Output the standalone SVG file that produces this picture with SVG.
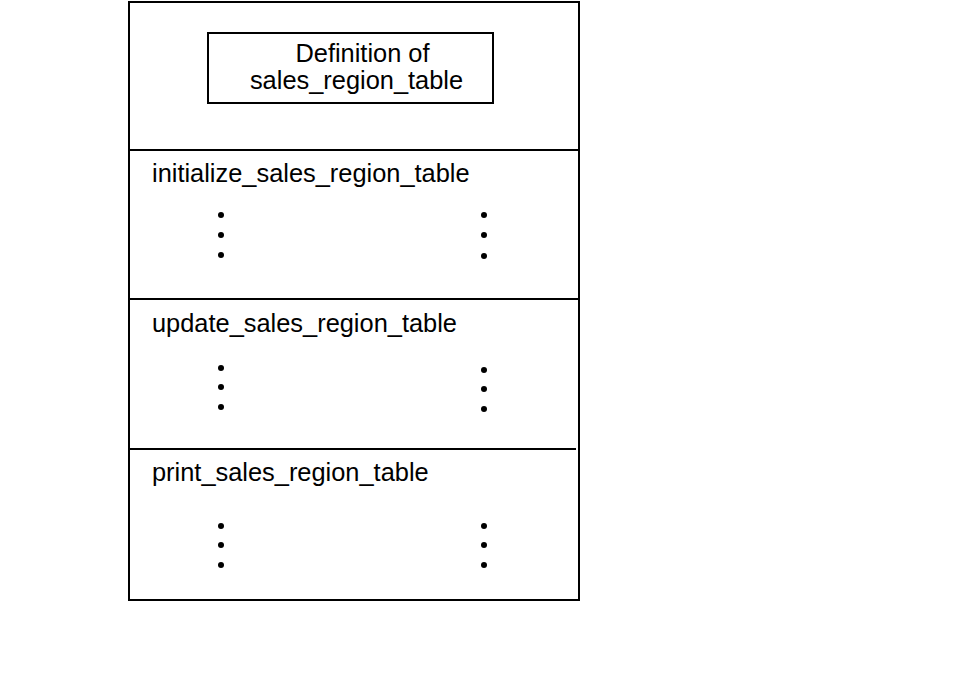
<svg xmlns="http://www.w3.org/2000/svg" width="978" height="695" viewBox="0 0 978 695">
<style>
.ln{stroke:#000;stroke-width:2;fill:none}
.t{font-family:"Liberation Sans",Arial,sans-serif;font-size:25.4px;fill:#000}
.d{fill:#000}
</style>
<rect width="978" height="695" fill="#fff"/>
<g id="module">
<rect class="ln" x="129" y="2" width="450" height="598"/>
</g>
<g id="dividers">
<line class="ln" x1="129" y1="150" x2="579" y2="150"/>
<line class="ln" x1="129" y1="299" x2="579" y2="299"/>
<line class="ln" x1="129" y1="449" x2="576" y2="449"/>
</g>
<g id="definition">
<rect class="ln" x="208" y="33" width="285" height="70"/>
<text class="t" x="362.5" y="62" text-anchor="middle">Definition of</text>
<text class="t" x="356.5" y="89" text-anchor="middle">sales_region_table</text>
</g>
<g id="initialize">
<text class="t" x="152" y="182">initialize_sales_region_table</text>
<circle class="d" cx="221" cy="215" r="3"/><circle class="d" cx="221" cy="235" r="3"/><circle class="d" cx="221" cy="255" r="3"/>
<circle class="d" cx="484" cy="215" r="3"/><circle class="d" cx="484" cy="235" r="3"/><circle class="d" cx="484" cy="256" r="3"/>
</g>
<g id="update">
<text class="t" x="152" y="332">update_sales_region_table</text>
<circle class="d" cx="221" cy="368" r="3"/><circle class="d" cx="221" cy="387" r="3"/><circle class="d" cx="221" cy="407" r="3"/>
<circle class="d" cx="484" cy="370" r="3"/><circle class="d" cx="484" cy="389" r="3"/><circle class="d" cx="484" cy="409" r="3"/>
</g>
<g id="print">
<text class="t" x="152" y="481">print_sales_region_table</text>
<circle class="d" cx="221" cy="526" r="3"/><circle class="d" cx="221" cy="545" r="3"/><circle class="d" cx="221" cy="565" r="3"/>
<circle class="d" cx="484" cy="526" r="3"/><circle class="d" cx="484" cy="545" r="3"/><circle class="d" cx="484" cy="565" r="3"/>
</g>
</svg>
